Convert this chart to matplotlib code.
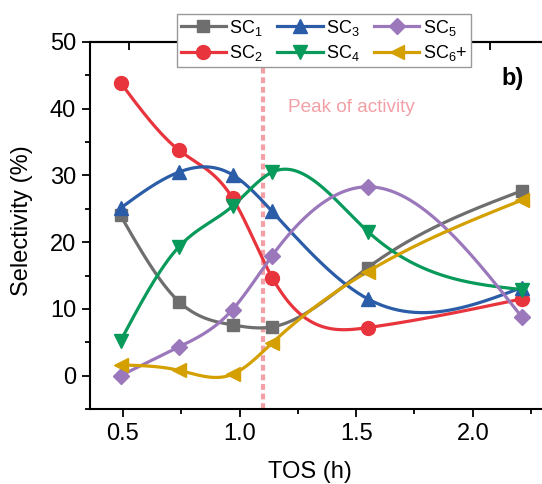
import matplotlib
matplotlib.use('Agg')
import matplotlib.pyplot as plt
import numpy as np

plt.rcParams['font.family'] = ['Liberation Sans', 'DejaVu Sans']
plt.rcParams['mathtext.default'] = 'regular'

# data
tos = [0.49, 0.74, 0.97, 1.14, 1.55, 2.21]
sc1 = [24.0, 11.1, 7.6, 7.3, 16.2, 27.7]
sc2 = [43.9, 33.8, 26.6, 14.7, 7.2, 11.5]
sc3 = [25.1, 30.5, 30.1, 24.6, 11.5, 13.2]
sc4 = [5.2, 19.3, 25.4, 30.5, 21.6, 12.9]
sc5 = [0.0, 4.3, 9.9, 18.0, 28.3, 8.8]
sc6 = [1.6, 0.8, 0.2, 4.9, 15.6, 26.3]
peak = 1.10

labels = ['SC$_1$', 'SC$_2$', 'SC$_3$', 'SC$_4$', 'SC$_5$', 'SC$_6$+']
colors = ['#6e6e6e', '#e8343d', '#2a5ca8', '#089a5a', '#9b78bb', '#d4a000']
markers = ['s', 'o', '^', 'v', 'D', '<']
msizes = [9, 10, 10, 10, 8, 10]


def spline(x, y, n=300):
    # natural cubic spline through the points
    x = np.asarray(x, float)
    y = np.asarray(y, float)
    k = len(x)
    h = np.diff(x)
    A = np.zeros((k, k))
    b = np.zeros(k)
    A[0, 0] = 1
    A[-1, -1] = 1
    for i in range(1, k - 1):
        A[i, i - 1] = h[i - 1]
        A[i, i] = 2 * (h[i - 1] + h[i])
        A[i, i + 1] = h[i]
        b[i] = 6 * ((y[i + 1] - y[i]) / h[i] - (y[i] - y[i - 1]) / h[i - 1])
    M = np.linalg.solve(A, b)
    xs = np.linspace(x[0], x[-1], n)
    ys = np.zeros(n)
    for j, xv in enumerate(xs):
        i = min(np.searchsorted(x, xv, side='right') - 1, k - 2)
        t1 = x[i + 1] - xv
        t0 = xv - x[i]
        ys[j] = (M[i] * t1**3 / (6 * h[i]) + M[i + 1] * t0**3 / (6 * h[i])
                 + (y[i] / h[i] - M[i] * h[i] / 6) * t1
                 + (y[i + 1] / h[i] - M[i + 1] * h[i] / 6) * t0)
    return xs, ys


fig = plt.figure(figsize=(5.42, 4.84), dpi=100)
ax = fig.add_axes([90 / 542, 75 / 484, 460 / 542, 367 / 484])

ax.axvline(peak, color='#f2a0a6', lw=3, ls=(0, (1.4, 0.9)), zorder=1)

series = [sc1, sc2, sc3, sc4, sc5, sc6]
handles = []
for s, lab, c, m, ms in zip(series, labels, colors, markers, msizes):
    xs, ys = spline(tos, s)
    ax.plot(xs, ys, color=c, lw=2.3, zorder=2)
    ax.plot(tos, s, ls='none', marker=m, ms=ms, color=c, zorder=3)
    h, = ax.plot([], [], color=c, lw=2.3, marker=m, ms=ms)
    handles.append(h)

ax.set_xlim(0.359, 2.331)
ax.set_ylim(-5, 50)
ax.set_xticks([0.5, 1.0, 1.5, 2.0])
ax.set_xticks([0.75, 1.25, 1.75, 2.25], minor=True)
ax.set_yticks([0, 10, 20, 30, 40, 50])
ax.set_yticks([-5, 5, 15, 25, 35, 45], minor=True)
ax.tick_params(which='major', direction='out', length=6, width=1.3,
               labelsize=17, top=False, right=False, pad=4)
ax.tick_params(which='minor', direction='out', length=3.5, width=1.3,
               top=False, right=False)
for sp in ['left', 'bottom', 'top']:
    ax.spines[sp].set_linewidth(1.5)
ax.spines['right'].set_visible(False)

top = ax.secondary_xaxis('top')
top.set_xticks([0.526, 1.3, 2.072])
top.tick_params(direction='in', length=6, width=1.3, labeltop=False)
top.set_xticklabels([])
top.spines['top'].set_linewidth(1.5)

ax.set_xlabel('TOS (h)', fontsize=17)
ax.set_ylabel('Selectivity (%)', fontsize=17)
ax.xaxis.set_label_coords(0.478, -0.142)
ax.yaxis.set_label_coords(-0.124, 0.512)

ax.text(1.207, 40.2, 'Peak of activity', color='#f2a0a6', fontsize=13.7,
        va='center', ha='left')
ax.text(2.172, 44.6, 'b)', fontsize=17, fontweight='bold', ha='center',
        va='center')

leg = fig.legend(handles, labels, ncol=3, loc='upper center',
                 bbox_to_anchor=(324 / 542, 1 - 14 / 484), fontsize=13,
                 frameon=True, fancybox=False, edgecolor='#999999',
                 framealpha=1, handlelength=2.5, columnspacing=0.8,
                 handletextpad=0.2, labelspacing=0.3, borderpad=0.2,
                 borderaxespad=0)
leg.get_frame().set_linewidth(1.0)
leg.set_zorder(5)

fig.savefig('out.png', dpi=100)
